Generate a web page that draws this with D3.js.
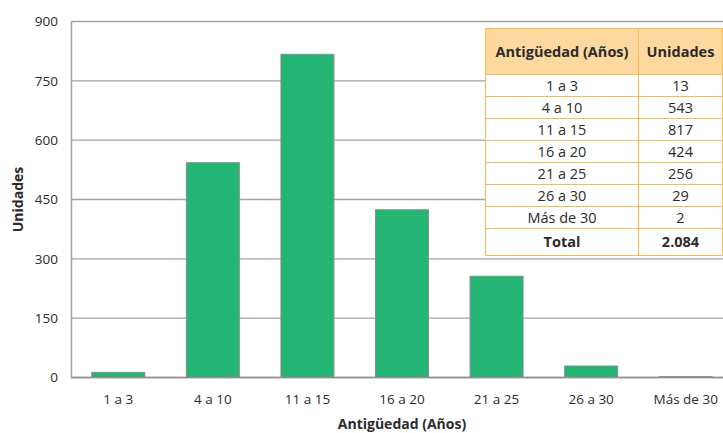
<!DOCTYPE html>
<html>
<head>
<meta charset="utf-8">
<script src="https://cdn.jsdelivr.net/npm/d3@7"></script>
<style>
  html, body { margin: 0; padding: 0; background: #fff; }
  svg { display: block; font-family: "Open Sans", "Noto Sans", sans-serif; }
</style>
</head>
<body>
<svg id="chart" width="723" height="433"></svg>
<script>
// Units by age range (years)
const categories = ["1 a 3", "4 a 10", "11 a 15", "16 a 20", "21 a 25", "26 a 30", "Más de 30"];
const units = [13, 543, 817, 424, 256, 29, 2];
const yTicks = [0, 150, 300, 450, 600, 750, 900];
const tableHeaders = ["Antigüedad (Años)", "Unidades"];
const totalLabel = "Total";

const svg = d3.select("#chart");
const margin = { left: 71, top: 21.5, right: -10, bottom: 55.5 };
const W = 723, H = 433;
const textColor = "#2b2b2b";

const x = d3.scaleBand()
  .domain(categories)
  .range([margin.left, W - margin.right])
  .paddingInner(0.44)
  .paddingOuter(0.22);

const y = d3.scaleLinear()
  .domain([0, 900])
  .range([H - margin.bottom, margin.top]);

// Horizontal gridlines
svg.append("g")
  .selectAll("line")
  .data(yTicks)
  .join("line")
  .attr("x1", margin.left)
  .attr("x2", W)
  .attr("y1", d => y(d))
  .attr("y2", d => y(d))
  .attr("stroke", "#a3a3a3")
  .attr("stroke-width", 1.3);

// Y axis
const yAxis = svg.append("g")
  .attr("transform", `translate(${margin.left},0)`)
  .call(d3.axisLeft(y).tickValues(yTicks).tickSize(0).tickPadding(13));
yAxis.select(".domain").attr("stroke", "#a3a3a3").attr("stroke-width", 1.5);
yAxis.selectAll("text")
  .attr("font-size", 13.5)
  .attr("fill", textColor)
  .attr("font-family", "'Open Sans', sans-serif");

// Bars
svg.append("g")
  .selectAll("rect")
  .data(categories)
  .join("rect")
  .attr("x", d => x(d))
  .attr("width", x.bandwidth())
  .attr("y", (d, i) => y(units[i]))
  .attr("height", (d, i) => y(0) - y(units[i]))
  .attr("fill", "#22b573")
  .attr("stroke", "#8a8a8a")
  .attr("stroke-width", 1);

// Baseline over bars
svg.append("line")
  .attr("x1", margin.left).attr("x2", W)
  .attr("y1", y(0)).attr("y2", y(0))
  .attr("stroke", "#8f8f8f").attr("stroke-width", 1.3);

// X axis labels
const xAxis = svg.append("g")
  .attr("transform", `translate(0,${y(0)})`)
  .call(d3.axisBottom(x).tickSize(0).tickPadding(17));
xAxis.select(".domain").remove();
xAxis.selectAll("text")
  .attr("font-size", 13.5)
  .attr("fill", textColor)
  .attr("font-family", "'Open Sans', sans-serif");

// Axis titles
svg.append("text")
  .attr("x", (margin.left + W - margin.right) / 2)
  .attr("y", 429)
  .attr("text-anchor", "middle")
  .attr("font-size", 14)
  .attr("font-weight", "bold")
  .attr("fill", textColor)
  .text("Antigüedad (Años)");

svg.append("text")
  .attr("transform", `translate(23,${(y(0) + y(900)) / 2}) rotate(-90)`)
  .attr("text-anchor", "middle")
  .attr("font-size", 14)
  .attr("font-weight", "bold")
  .attr("fill", textColor)
  .text("Unidades");

// Summary table
const total = d3.sum(units);
const fmt = d3.formatLocale({ decimal: ",", thousands: ".", grouping: [3], currency: ["", ""] }).format(",d");
const rows = categories.map((c, i) => [c, String(units[i])]);
rows.push([totalLabel, fmt(total)]);

const tx0 = 485.5, tx1 = 638.5, tx2 = 722.5;
const headerTop = 28.5, headerH = 46, rowH = 22, totalH = 27;
const tableBottom = headerTop + headerH + rowH * categories.length + totalH;

const table = svg.append("g");
// white backing
table.append("rect")
  .attr("x", tx0).attr("y", headerTop)
  .attr("width", tx2 - tx0).attr("height", tableBottom - headerTop)
  .attr("fill", "#fff");
// header background
table.append("rect")
  .attr("x", tx0).attr("y", headerTop)
  .attr("width", tx2 - tx0).attr("height", headerH)
  .attr("fill", "#fdd9a0");

const orange = "#f6bb55";
// horizontal rules
const rowYs = [headerTop, headerTop + headerH];
for (let i = 1; i <= categories.length; i++) rowYs.push(headerTop + headerH + rowH * i);
rowYs.push(tableBottom);
table.selectAll("line.h")
  .data(rowYs)
  .join("line")
  .attr("class", "h")
  .attr("x1", tx0).attr("x2", tx2)
  .attr("y1", d => d).attr("y2", d => d)
  .attr("stroke", orange).attr("stroke-width", 1);
// vertical rules
table.selectAll("line.v")
  .data([tx0, tx1, tx2])
  .join("line")
  .attr("class", "v")
  .attr("x1", d => d).attr("x2", d => d)
  .attr("y1", headerTop).attr("y2", tableBottom)
  .attr("stroke", orange).attr("stroke-width", 1);

// header text
table.selectAll("text.hd")
  .data(tableHeaders)
  .join("text")
  .attr("class", "hd")
  .attr("x", (d, i) => i === 0 ? (tx0 + tx1) / 2 : (tx1 + tx2) / 2)
  .attr("y", headerTop + headerH / 2)
  .attr("dy", "0.35em")
  .attr("text-anchor", "middle")
  .attr("font-size", 14.5)
  .attr("font-weight", "bold")
  .attr("fill", textColor)
  .text(d => d);

// body text
rows.forEach((r, i) => {
  const isTotal = i === rows.length - 1;
  const top = headerTop + headerH + rowH * i;
  const h = isTotal ? totalH : rowH;
  r.forEach((v, j) => {
    table.append("text")
      .attr("x", j === 0 ? (tx0 + tx1) / 2 : (tx1 + tx2) / 2)
      .attr("y", top + h / 2)
      .attr("dy", "0.35em")
      .attr("text-anchor", "middle")
      .attr("font-size", 14.5)
      .attr("font-weight", isTotal ? "bold" : "normal")
      .attr("fill", textColor)
      .text(v);
  });
});
</script>
</body>
</html>
